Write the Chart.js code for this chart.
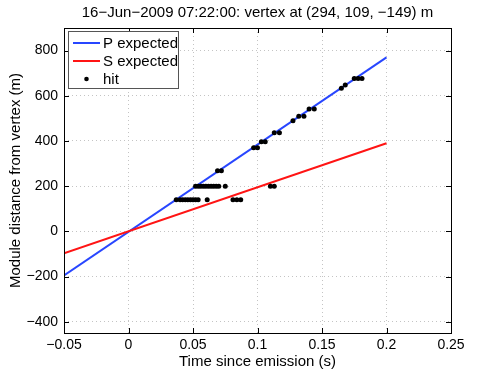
<!DOCTYPE html>
<html>
<head>
<meta charset="utf-8">
<script src="https://cdn.jsdelivr.net/npm/chart.js@4"></script>
<style>
  html, body { margin: 0; padding: 0; background: #fff; }
  #wrap { width: 498px; height: 375px; }
</style>
</head>
<body>
<div id="wrap"><canvas id="chart" width="498" height="375"></canvas></div>
<script>
// Chart data
const titleText = '16\u2212Jun\u22122009 07:22:00: vertex at (294, 109, \u2212149) m';

const lineTimes = [-0.05, 0.2];
const pExpected = [-195, 770];
const sExpected = [-97, 390];

const hitTimes = [
    0.037, 0.040, 0.042, 0.044, 0.046, 0.048, 0.050, 0.052, 0.054, 0.061, 0.081, 0.084, 0.087,
    0.052, 0.054, 0.056, 0.058, 0.060, 0.062, 0.064, 0.066, 0.068, 0.070, 0.075,
    0.069, 0.072,
    0.110, 0.113,
    0.097, 0.100, 0.103, 0.106, 0.113, 0.117, 0.1275, 0.132, 0.136, 0.140, 0.144,
    0.165, 0.168, 0.175, 0.178, 0.181
];
const hitDistances = [
    140, 140, 140, 140, 140, 140, 140, 140, 140, 140, 140, 140, 140,
    200, 200, 200, 200, 200, 200, 200, 200, 200, 200, 200,
    268, 268,
    200, 200,
    370, 370, 396, 396, 436, 436, 490, 509, 509, 541, 541,
    633, 648, 677, 677, 677
];

const xTicks = [-0.05, 0, 0.05, 0.1, 0.15, 0.2, 0.25];
const xTickLabels = ['\u22120.05', '0', '0.05', '0.1', '0.15', '0.2', '0.25'];
const yTicks = [-400, -200, 0, 200, 400, 600, 800];
const yTickLabels = ['\u2212400', '\u2212200', '0', '200', '400', '600', '800'];

const FONT = "'Liberation Sans', Arial, Helvetica, sans-serif";

// box around the axes, inward ticks on all sides, title and legend
const matlabAxes = {
    id: 'matlabAxes',
    afterDatasetsDraw(chart) {
        const {ctx, chartArea: a, scales} = chart;
        ctx.save();
        ctx.strokeStyle = '#000';
        ctx.lineWidth = 1;
        ctx.strokeRect(Math.round(a.left) + 0.5, Math.round(a.top) + 0.5,
            Math.round(a.right - a.left), Math.round(a.bottom - a.top));
        const tl = 5;
        ctx.beginPath();
        xTicks.forEach(v => {
            const x = Math.round(scales.x.getPixelForValue(v)) + 0.5;
            ctx.moveTo(x, a.bottom); ctx.lineTo(x, a.bottom - tl);
            ctx.moveTo(x, a.top); ctx.lineTo(x, a.top + tl);
        });
        yTicks.forEach(v => {
            const y = Math.round(scales.y.getPixelForValue(v)) + 0.5;
            ctx.moveTo(a.left, y); ctx.lineTo(a.left + tl, y);
            ctx.moveTo(a.right, y); ctx.lineTo(a.right - tl, y);
        });
        ctx.stroke();

        // title, centred over the axes
        ctx.fillStyle = '#000';
        ctx.font = '15px ' + FONT;
        ctx.textAlign = 'center';
        ctx.textBaseline = 'middle';
        ctx.fillText(titleText, (a.left + a.right) / 2, 13);

        // legend
        const lx = a.left + 4, ly = a.top + 3, lw = 110, lh = 57;
        ctx.fillStyle = '#fff';
        ctx.fillRect(lx, ly, lw, lh);
        ctx.strokeStyle = '#555';
        ctx.strokeRect(lx + 0.5, ly + 0.5, lw, lh);
        ctx.font = '15px ' + FONT;
        ctx.textAlign = 'left';
        chart.data.datasets.forEach((ds, i) => {
            const cy = ly + 12 + i * 18;
            if (ds.showLine) {
                ctx.strokeStyle = ds.borderColor;
                ctx.lineWidth = 2;
                ctx.beginPath();
                ctx.moveTo(lx + 5, cy); ctx.lineTo(lx + 32, cy);
                ctx.stroke();
            } else {
                ctx.fillStyle = ds.backgroundColor;
                ctx.beginPath();
                ctx.arc(lx + 18.5, cy, 2.3, 0, Math.PI * 2);
                ctx.fill();
            }
            ctx.fillStyle = '#000';
            ctx.fillText(ds.label, lx + 35, cy + 1);
        });
        ctx.restore();
    }
};

const ctx = document.getElementById('chart').getContext('2d');
new Chart(ctx, {
    type: 'scatter',
    data: {
        datasets: [
            {
                label: 'P expected',
                data: lineTimes.map((t, i) => ({x: t, y: pExpected[i]})),
                showLine: true,
                borderColor: 'rgb(40, 70, 255)',
                backgroundColor: 'rgb(40, 70, 255)',
                borderWidth: 2,
                pointRadius: 0,
                order: 2
            },
            {
                label: 'S expected',
                data: lineTimes.map((t, i) => ({x: t, y: sExpected[i]})),
                showLine: true,
                borderColor: 'rgb(255, 20, 20)',
                backgroundColor: 'rgb(255, 20, 20)',
                borderWidth: 2,
                pointRadius: 0,
                order: 1
            },
            {
                label: 'hit',
                data: hitTimes.map((t, i) => ({x: t, y: hitDistances[i]})),
                showLine: false,
                borderColor: '#000',
                backgroundColor: '#000',
                pointRadius: 2.5,
                pointBorderWidth: 0,
                order: 0
            }
        ]
    },
    options: {
        responsive: false,
        animation: false,
        layout: { padding: { left: 0, right: 47, top: 28, bottom: 0 } },
        plugins: {
            legend: { display: false },
            tooltip: { enabled: false },
            title: { display: false }
        },
        scales: {
            x: {
                type: 'linear',
                min: -0.05,
                max: 0.25,
                afterBuildTicks: s => { s.ticks = xTicks.map(v => ({value: v})); },
                afterFit: s => { s.height = 42; },
                ticks: {
                    color: '#000',
                    font: { family: FONT, size: 14 },
                    padding: 4,
                    maxRotation: 0,
                    autoSkip: false,
                    callback: (v, i) => xTickLabels[i]
                },
                grid: { color: '#c4c4c4', lineWidth: 1, drawTicks: false },
                border: { display: false, dash: [1, 3] },
                title: {
                    display: true,
                    text: 'Time since emission (s)',
                    color: '#000',
                    font: { family: FONT, size: 15 },
                    padding: { top: 0, bottom: 4 }
                }
            },
            y: {
                type: 'linear',
                min: -450,
                max: 900,
                afterBuildTicks: s => { s.ticks = yTicks.map(v => ({value: v})); },
                afterFit: s => { s.width = 64; },
                ticks: {
                    color: '#000',
                    font: { family: FONT, size: 14 },
                    padding: 6,
                    autoSkip: false,
                    callback: (v, i) => yTickLabels[i]
                },
                grid: { color: '#c4c4c4', lineWidth: 1, drawTicks: false },
                border: { display: false, dash: [1, 3] },
                title: {
                    display: true,
                    text: 'Module distance from vertex (m)',
                    color: '#000',
                    font: { family: FONT, size: 15 },
                    padding: { top: 7, bottom: 0 }
                }
            }
        }
    },
    plugins: [matlabAxes]
});
</script>
</body>
</html>
